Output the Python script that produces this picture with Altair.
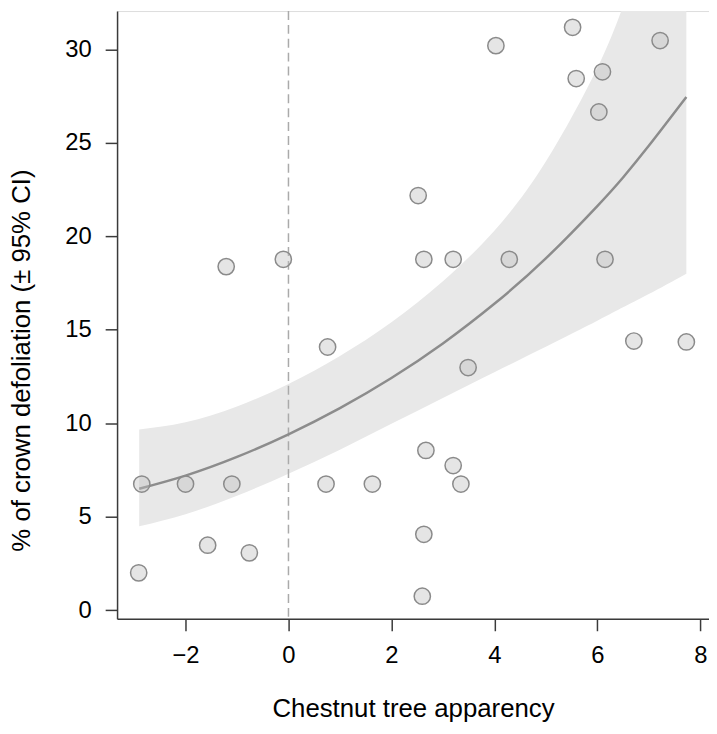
import altair as alt
import pandas as pd

# observed points
pt_x = [-2.91, -2.85, -2.0, -1.1, -1.57, -0.76, -1.21, -0.1, 0.76, 0.73, 1.63, 2.52,
        2.63, 2.67, 3.2, 3.35, 2.63, 2.6, 3.2, 3.49, 4.03, 4.29, 5.52, 5.59, 6.1, 6.03,
        6.15, 6.71, 7.22, 7.73]
pt_y = [2.0, 6.75, 6.75, 6.75, 3.48, 3.07, 18.38, 18.77, 14.08, 6.75, 6.75, 22.18,
        18.77, 8.55, 7.74, 6.75, 4.06, 0.75, 18.77, 12.98, 30.2, 18.77, 31.18, 28.44,
        28.8, 26.65, 18.77, 14.4, 30.47, 14.35]

# fitted curve and 95% CI
fit_x = [-2.9, -2.0, -1.0, 0.0, 1.0, 2.0, 3.0, 4.0, 5.0, 6.0, 6.5, 7.0, 7.73]
fit_mean = [6.5, 7.2, 8.2, 9.41, 10.81, 12.42, 14.27, 16.39, 18.82, 21.62, 23.15, 24.84, 27.45]
fit_lo = [4.49, 5.14, 6.12, 7.3, 8.59, 9.97, 11.35, 12.73, 14.09, 15.48, 16.2, 16.91, 18.0]
fit_hi = [9.67, 10.05, 10.9, 12.1, 13.6, 15.4, 17.6, 20.3, 24.0, 29.0, 32.3, 36.0, 42.0]

x_ticks = [-2, 0, 2, 4, 6, 8]
y_ticks = [0, 5, 10, 15, 20, 25, 30]

pts = pd.DataFrame({"x": pt_x, "y": pt_y})
fit = pd.DataFrame({"x": fit_x, "m": fit_mean, "lo": fit_lo, "hi": fit_hi})

FONT = "Liberation Sans"
AX = "#3a3a3a"

xscale = alt.Scale(domain=[-3.33, 8.17], nice=False, zero=False)
yscale = alt.Scale(domain=[-0.46, 32.05], nice=False, zero=False)

xaxis = alt.Axis(values=x_ticks, title="Chestnut tree apparency", grid=False,
                 domainColor=AX, domainWidth=1.5, tickColor=AX, tickWidth=1.5,
                 tickSize=12, labelFontSize=24, labelFont=FONT, labelColor="black",
                 labelPadding=13, titleFontSize=26, titleFont=FONT, titleFontWeight="normal",
                 titleColor="black", titleBaseline="alphabetic", titleY=99)
yaxis = alt.Axis(values=y_ticks, title="% of crown defoliation (± 95% CI)", grid=False,
                 domainColor=AX, domainWidth=1.5, tickColor=AX, tickWidth=1.5,
                 tickSize=12, labelFontSize=24, labelFont=FONT, labelColor="black",
                 labelPadding=14, titleFontSize=26, titleFont=FONT, titleFontWeight="normal",
                 titleColor="black", titleAngle=270, titleAlign="center",
                 titleBaseline="alphabetic", titleX=-88, titleY=352)

band = alt.Chart(fit).mark_area(color="#e8e8e8", opacity=1, clip=True,
                                interpolate="natural").encode(
    x=alt.X("x:Q", scale=xscale, axis=xaxis),
    y=alt.Y("lo:Q", scale=yscale, axis=yaxis),
    y2="hi:Q",
)

vline = alt.Chart(pd.DataFrame({"x": [0]})).mark_rule(
    color="#aaaaaa", strokeWidth=1.5, strokeDash=[9, 5]).encode(
    x=alt.X("x:Q", scale=xscale),
)

line = alt.Chart(fit).mark_line(color="#8c8c8c", strokeWidth=2.5, clip=True,
                                interpolate="natural").encode(
    x=alt.X("x:Q", scale=xscale),
    y=alt.Y("m:Q", scale=yscale),
)

points = alt.Chart(pts).mark_circle(size=270, fill="#bfbfbf", fillOpacity=0.4,
                                    stroke="#8a8a8a", strokeWidth=1.5,
                                    strokeOpacity=1, opacity=1).encode(
    x=alt.X("x:Q", scale=xscale),
    y=alt.Y("y:Q", scale=yscale),
)

chart = alt.layer(band, vline, line, points).properties(
    width=597, height=613,
    autosize=alt.AutoSizeParams(type="none"),
    padding={"left": 110, "top": 0, "right": 0, "bottom": 104},
).configure_view(strokeWidth=0).configure(font=FONT)

chart.save("out.html", embed_options={"renderer": "svg", "actions": False})
